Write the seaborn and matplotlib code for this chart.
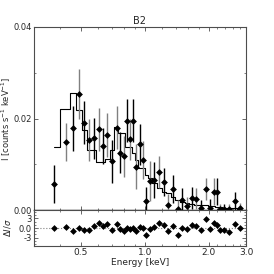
import numpy as np
import pandas as pd
import seaborn as sns
import matplotlib
matplotlib.use("Agg")
import matplotlib.pyplot as plt
from matplotlib.ticker import FixedLocator, FixedFormatter, NullFormatter

title = "B2"
energy = [0.374, 0.425, 0.458, 0.491, 0.518, 0.547, 0.576, 0.606, 0.635, 0.663,
          0.700, 0.735, 0.764, 0.797, 0.821, 0.851, 0.882, 0.908, 0.944, 0.977,
          1.018, 1.061, 1.108, 1.172, 1.232, 1.286, 1.358, 1.429, 1.505, 1.580,
          1.663, 1.748, 1.841, 1.937, 2.023, 2.108, 2.189, 2.262, 2.370, 2.495,
          2.649, 2.811]
intensity = [0.0057, 0.0149, 0.0179, 0.0254, 0.0191, 0.0153, 0.0157, 0.0176, 0.0140, 0.0164,
             0.0107, 0.0180, 0.0125, 0.0117, 0.0195, 0.0155, 0.0195, 0.0095, 0.0144, 0.0109,
             0.0020, 0.0063, 0.0066, 0.0083, 0.0061, 0.0011, 0.0046, 0.0002, 0.0022, 0.0009,
             0.0027, 0.0025, 0.0004, 0.0045, 0.0005, 0.0040, 0.0040, 0.0003, 0.0003, 0.0003,
             0.0019, 0.0004]
error = [0.0042, 0.0041, 0.0049, 0.0055, 0.0047, 0.0045, 0.0045, 0.0047, 0.0040, 0.0049,
         0.0047, 0.0047, 0.0045, 0.0045, 0.0047, 0.0045, 0.0047, 0.0050, 0.0045, 0.0042,
         0.0030, 0.0044, 0.0040, 0.0035, 0.0030, 0.0025, 0.0030, 0.0020, 0.0026, 0.0020,
         0.0024, 0.0022, 0.0018, 0.0024, 0.0018, 0.0030, 0.0030, 0.0010, 0.0010, 0.0010,
         0.0020, 0.0012]
model = [0.0138, 0.0220, 0.0255, 0.0219, 0.0175, 0.0131, 0.0131, 0.0106, 0.0105, 0.0111,
         0.0131, 0.0182, 0.0169, 0.0169, 0.0138, 0.0138, 0.0125, 0.0109, 0.0091, 0.0091,
         0.0077, 0.0071, 0.0060, 0.0047, 0.0040, 0.0037, 0.0028, 0.0022, 0.0018, 0.0015,
         0.0014, 0.0012, 0.0010, 0.0010, 0.0009, 0.0008, 0.0007, 0.0006, 0.0005, 0.0004,
         0.0004, 0.0003]
residual = [0.0, 0.3, -0.9, 0.1, -0.6, -0.5, 0.6, 1.7, 0.7, 1.1,
            -0.5, 1.1, -0.3, -1.0, 0.1, -0.4, 0.1, -0.8, 0.2, 0.0,
            -2.1, -0.2, 0.2, 1.6, 0.8, -1.0, 0.5, -2.3, 0.0, -0.2,
            0.8, 0.6, -0.7, 2.7, -0.2, 1.5, 1.0, -0.6, -0.6, -1.25,
            1.35, 0.0]

x_ticks = [0.5, 1.0, 2.0, 3.0]
x_ticklabels = ["0.5", "1.0", "2.0", "3.0"]
x_minor = [0.3, 0.4, 0.6, 0.7, 0.8, 0.9, 1.2, 1.4, 1.6, 1.8, 2.2, 2.4, 2.6, 2.8]

df = pd.DataFrame({"E": energy, "I": intensity, "err": error, "model": model, "res": residual})

sns.set_style("ticks")
plt.rcParams["font.family"] = ["DejaVu Sans"]
plt.rcParams["font.size"] = 6

fig = plt.figure(figsize=(2.74, 2.74), dpi=100)
L, R = 34 / 274, 246 / 274
W = R - L
ax = fig.add_axes([L, 1 - 210 / 274, W, (210 - 27) / 274])
axr = fig.add_axes([L, 1 - 246 / 274, W, (246 - 210) / 274], sharex=ax)

# model step
ax.step(df["E"], df["model"], where="mid", color="black", lw=0.8, zorder=2)
# error bars alternating colours
for i, row in df.iterrows():
    c = "black" if i % 2 == 0 else "0.5"
    ax.errorbar(row["E"], row["I"], yerr=row["err"], fmt="none", ecolor=c, elinewidth=1.0, zorder=3)
sns.scatterplot(data=df, x="E", y="I", ax=ax, marker="D", s=12, color="black",
                edgecolor="black", linewidth=0, zorder=4, legend=False)

ax.set_xscale("log")
ax.set_xlim(0.3, 3.0)
ax.set_ylim(0.0, 0.04)
ax.set_yticks([0.0, 0.02, 0.04])
ax.set_yticklabels(["0.00", "0.02", "0.04"])
ax.yaxis.set_minor_locator(FixedLocator([0.01, 0.03]))
ax.set_ylabel("I [counts s$^{-1}$ keV$^{-1}$]", fontsize=6)
ax.yaxis.set_label_coords(-(34 - 13) / 212, 0.5)
ax.set_xlabel("")
ax.set_title(title, fontsize=7, pad=2)
ax.tick_params(labelbottom=False)

# residuals
axr.axhline(0, color="0.5", ls=":", lw=0.8, zorder=1)
sns.scatterplot(data=df, x="E", y="res", ax=axr, marker="D", s=12, color="black",
                edgecolor="black", linewidth=0, zorder=4, legend=False)
axr.set_ylim(-5.6, 5.6)
axr.set_yticks([-3, 0, 3])
axr.set_yticklabels(["-3", "0.0", "3"])
axr.yaxis.set_minor_locator(FixedLocator([-5, -4, -2, -1, 1, 2, 4, 5]))
axr.set_ylabel(r"$\Delta I/\sigma$", fontsize=6)
axr.yaxis.set_label_coords(-(34 - 13) / 212, 0.5)
axr.set_xlabel("Energy [keV]", fontsize=6.5, labelpad=1)
axr.xaxis.set_major_locator(FixedLocator(x_ticks))
axr.xaxis.set_major_formatter(FixedFormatter(x_ticklabels))
axr.xaxis.set_minor_locator(FixedLocator(x_minor))
axr.xaxis.set_minor_formatter(NullFormatter())

for a in (ax, axr):
    a.tick_params(which="both", direction="in", top=True, right=True, labelsize=6.5,
                  pad=1.5, color="0.3")
    a.tick_params(which="major", length=3, width=0.6)
    a.tick_params(which="minor", length=1.5, width=0.5)
    for s in a.spines.values():
        s.set_color("0.3")
        s.set_linewidth(0.8)
ax.tick_params(axis="y", labelsize=6)
axr.tick_params(axis="y", labelsize=6)
ax.spines["bottom"].set_color("black")
ax.spines["bottom"].set_linewidth(1.0)

fig.savefig("out.png", dpi=100)
